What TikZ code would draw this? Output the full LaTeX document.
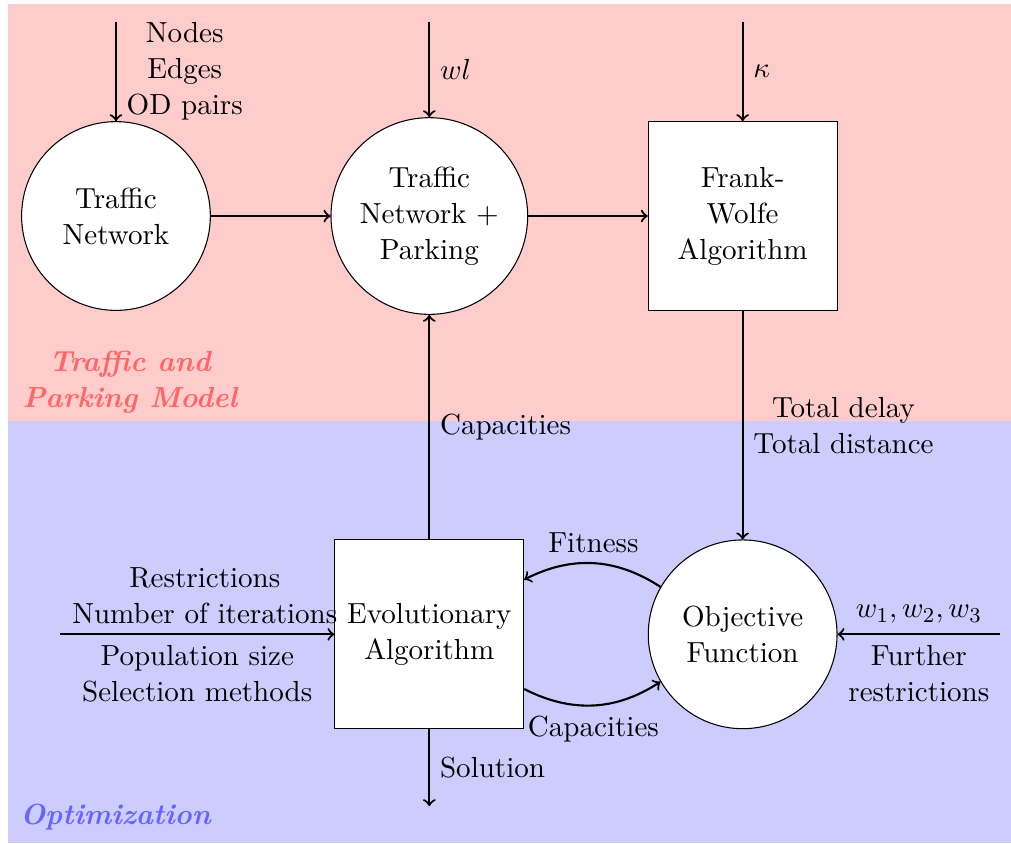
\documentclass[tikz,border=0pt,11pt]{standalone}
\usepackage{tikz}
\usetikzlibrary{positioning}

\begin{document}
\begin{tikzpicture}[auto,node distance=4.15cm,
                circ/.style = {circle, draw, fill=white, minimum size=2.5cm, align=center},
                block/.style = {rectangle, draw, fill=white, minimum size=2.5cm, align=center},
                flow/.style = {->, thick},
                area/.style = {font=\bfseries\itshape, align=center}]
                \useasboundingbox (0,0) rectangle (13.39,11.166);
                % the two areas
                \fill[red!20] (0.106,5.589) rectangle (13.39,11.113);
                \fill[blue!20] (0.106,0) rectangle (13.39,5.589);
                \node[area, text=red!60] (model) at (1.72,6.106) {Traffic and\\Parking Model};
                \node[area, text=blue!60] (opt) at (1.53,0.344) {Optimization};
                % nodes
                \node[circ] (tn) at (1.536,8.305) {Traffic\\Network};
                \node[circ] (tnp) [right of=tn] {Traffic\\Network +\\Parking};
                \node[block] (fw) [right of=tnp] {Frank-\\Wolfe\\Algorithm};
                \node[block] (ea) [below of=tnp, node distance=5.54cm] {Evolutionary\\Algorithm};
                \node[circ] (of) [below of=fw, node distance=5.54cm] {Objective\\Function};
                % free ends
                \coordinate (tnin) at ([yshift=2.57cm]tn.center);
                \coordinate (tnpin) at ([yshift=2.57cm]tnp.center);
                \coordinate (fwin) at ([yshift=2.57cm]fw.center);
                \coordinate (eain) at ([xshift=-4.89cm]ea.center);
                \coordinate (ofin) at ([xshift=3.41cm]of.center);
                \coordinate (eaout) at ([yshift=-2.275cm]ea.center);
                % connectors
                \draw[flow] (tnin) -- node[right, align=center] {Nodes\\Edges\\OD pairs} (tn);
                \draw[flow] (tnpin) -- node[right] {$wl$} (tnp);
                \draw[flow] (fwin) -- node[right] {$\kappa$} (fw);
                \draw[flow] (tn) -- (tnp);
                \draw[flow] (tnp) -- (fw);
                \draw[flow] (fw) -- node[right, align=center] {Total delay\\Total distance} (of);
                \draw[flow] (ea) -- node[right] {Capacities} (tnp);
                \draw[flow] (ea) -- node[right] {Solution} (eaout);
                \draw[flow] (eain) -- node[above, align=center, xshift=0.1cm] {Restrictions\\Number of iterations}
                    node[below, align=center] {Population size\\Selection methods} (ea);
                \draw[flow] (ofin) -- node[above] {$w_1, w_2, w_3$}
                    node[below, align=center] {Further\\restrictions} (of);
                \draw[flow] (of) to[bend right] node[above] {Fitness} (ea);
                \draw[flow] (ea) to[bend right] node[below] {Capacities} (of);
            \end{tikzpicture}
\end{document}
